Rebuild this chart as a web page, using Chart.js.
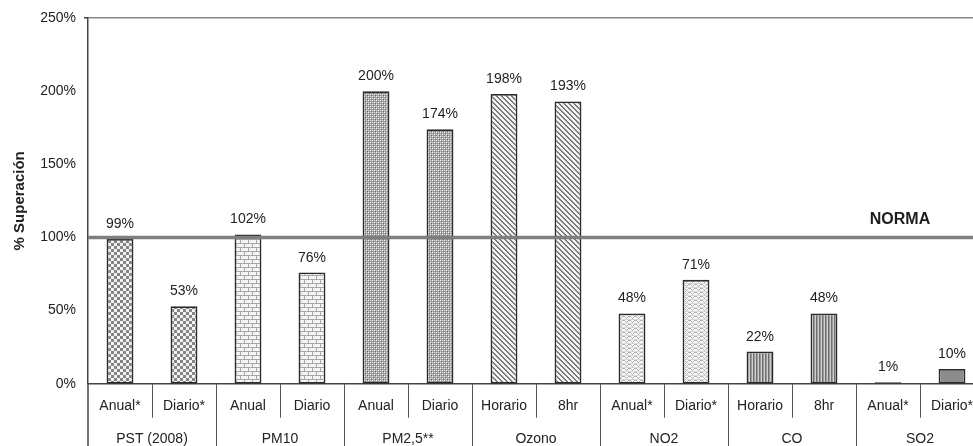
<!DOCTYPE html>
<html>
<head>
<meta charset="utf-8">
<script src="https://cdn.jsdelivr.net/npm/chart.js@4/dist/chart.umd.min.js"></script>
<style>
  html, body { margin: 0; padding: 0; background: #fff; overflow: hidden; }
  #wrap { width: 1000px; height: 446px; }
</style>
</head>
<body>
<div id="wrap"><canvas id="c" width="1000" height="446"></canvas></div>
<script>
// ---- data ----
const subLabels = ['Anual*', 'Diario*', 'Anual', 'Diario', 'Anual', 'Diario', 'Horario', '8hr', 'Anual*', 'Diario*', 'Horario', '8hr', 'Anual*', 'Diario*'];
const groupLabels = ['PST (2008)', 'PM10', 'PM2,5**', 'Ozono', 'NO2', 'CO', 'SO2'];
const superacion = [99, 53, 102, 76, 200, 174, 198, 193, 48, 71, 22, 48, 1, 10];
const yTicks = [0, 50, 100, 150, 200, 250];
const normaValue = 100;
const normaLabel = 'NORMA';
const yTitle = '% Superación';

// ---- patterns ----
function mkPattern(w, h, draw) {
  const c = document.createElement('canvas');
  c.width = w; c.height = h;
  const g = c.getContext('2d');
  draw(g, w, h);
  return document.getElementById('c').getContext('2d').createPattern(c, 'repeat');
}
const patChecker = mkPattern(6, 6, (g) => {
  g.fillStyle = '#f2f2f2'; g.fillRect(0, 0, 6, 6);
  g.fillStyle = '#858585'; g.fillRect(0, 0, 3, 3); g.fillRect(3, 3, 3, 3);
});
const patBrick = mkPattern(8, 8, (g) => {
  g.fillStyle = '#f4f4f4'; g.fillRect(0, 0, 8, 8);
  g.fillStyle = '#a8a8a8';
  g.fillRect(0, 3, 8, 1); g.fillRect(0, 7, 8, 1);
  g.fillRect(0, 0, 1, 3); g.fillRect(4, 4, 1, 3);
});
const patDots = mkPattern(4, 4, (g) => {
  g.fillStyle = '#a0a0a0'; g.fillRect(0, 0, 4, 4);
  g.fillStyle = '#ffffff'; g.fillRect(0, 0, 1, 1); g.fillRect(2, 2, 1, 1);
  g.fillStyle = '#6e6e6e'; g.fillRect(1, 1, 1, 1); g.fillRect(3, 3, 1, 1);
  g.fillStyle = '#d8d8d8'; g.fillRect(2, 0, 1, 1); g.fillRect(0, 2, 1, 1);
});
const patDiag = mkPattern(5, 5, (g) => {
  g.fillStyle = '#f4f4f4'; g.fillRect(0, 0, 5, 5);
  g.fillStyle = '#7a7a7a';
  for (let i = 0; i < 5; i++) { g.fillRect(i, i, 1, 1); g.fillRect((i + 1) % 5, i, 1, 1); }
});
const patZigzag = mkPattern(6, 4, (g) => {
  g.fillStyle = '#fafafa'; g.fillRect(0, 0, 6, 4);
  g.fillStyle = '#b0b0b0';
  g.fillRect(0, 0, 1, 1); g.fillRect(1, 1, 1, 1); g.fillRect(2, 2, 1, 1);
  g.fillRect(3, 1, 1, 1); g.fillRect(4, 0, 1, 1); g.fillRect(5, 0, 1, 1);
  g.fillStyle = '#d8d8d8'; g.fillRect(0, 3, 6, 1);
});
const patVert = mkPattern(3, 1, (g) => {
  g.fillStyle = '#707070'; g.fillRect(0, 0, 1, 1);
  g.fillStyle = '#9a9a9a'; g.fillRect(1, 0, 1, 1);
  g.fillStyle = '#cfcfcf'; g.fillRect(2, 0, 1, 1);
});
const solidGray = '#8c8c8c';
const barFills = [patChecker, patChecker, patBrick, patBrick, patDots, patDots, patDiag, patDiag,
                  patZigzag, patZigzag, patVert, patVert, solidGray, solidGray];

const FONT = '"Liberation Sans", Arial, sans-serif';
const TEXT = '#222222';

// ---- plugins ----
const extras = {
  id: 'extras',
  afterDatasetsDraw(chart) {
    const ctx = chart.ctx;
    const xs = chart.scales.x, ys = chart.scales.y;
    const area = chart.chartArea;
    // value labels
    const meta = chart.getDatasetMeta(0);
    ctx.save();
    ctx.font = '14px ' + FONT;
    ctx.fillStyle = TEXT;
    ctx.textAlign = 'center';
    ctx.textBaseline = 'alphabetic';
    meta.data.forEach((bar, i) => {
      ctx.fillText(superacion[i] + '%', bar.x, bar.y - 11);
    });
    // NORMA line
    const ny = ys.getPixelForValue(normaValue);
    ctx.strokeStyle = '#7f7f7f';
    ctx.lineWidth = 3.5;
    ctx.beginPath();
    ctx.moveTo(area.left, ny);
    ctx.lineTo(area.right, ny);
    ctx.stroke();
    ctx.font = 'bold 16px ' + FONT;
    ctx.fillStyle = '#1e1e1e';
    ctx.fillText(normaLabel, area.right - 84, ny - 13);
    // category dividers
    const bw = xs.getPixelForValue(1) - xs.getPixelForValue(0);
    ctx.strokeStyle = '#555555';
    ctx.lineWidth = 1;
    const y0 = area.bottom;
    const ySub = chart.scales.x.bottom;
    for (let i = 1; i <= subLabels.length; i++) {
      const bx = Math.round(xs.getPixelForValue(i - 1) + bw / 2) + 0.5;
      ctx.beginPath();
      ctx.moveTo(bx, y0);
      ctx.lineTo(bx, i % 2 === 0 ? chart.height : ySub);
      ctx.stroke();
    }
    // left axis continuation
    ctx.strokeStyle = '#444444';
    ctx.lineWidth = 1.5;
    ctx.beginPath();
    ctx.moveTo(area.left, y0);
    ctx.lineTo(area.left, chart.height);
    ctx.stroke();
    ctx.restore();
  }
};

new Chart(document.getElementById('c'), {
  type: 'bar',
  data: {
    labels: subLabels,
    datasets: [{
      data: superacion,
      backgroundColor: barFills,
      borderColor: '#2b2b2b',
      borderWidth: 1.8,
      borderSkipped: false,
      barPercentage: 0.42,
      categoryPercentage: 1.0
    }]
  },
  options: {
    responsive: false,
    animation: false,
    devicePixelRatio: 1,
    layout: { padding: { top: 18, right: 16, left: 0, bottom: 0 } },
    plugins: { legend: { display: false }, tooltip: { enabled: false } },
    scales: {
      x: {
        type: 'category',
        position: 'bottom',
        grid: { display: false, drawTicks: false },
        border: { display: true, color: '#444444', width: 1.5 },
        ticks: { color: TEXT, font: { family: FONT, size: 14 }, padding: 14, maxRotation: 0, autoSkip: false },
        afterFit(s) { s.height = 34; }
      },
      x2: {
        type: 'category',
        position: 'bottom',
        labels: groupLabels,
        offset: true,
        grid: { display: false, drawTicks: false },
        border: { display: false },
        ticks: { color: TEXT, font: { family: FONT, size: 14 }, padding: 13, maxRotation: 0, autoSkip: false },
        afterFit(s) { s.height = 28.3; }
      },
      y: {
        min: 0,
        max: 250,
        afterBuildTicks(s) { s.ticks = yTicks.map(v => ({ value: v })); },
        ticks: {
          color: TEXT,
          font: { family: FONT, size: 14 },
          padding: 8,
          callback: (v) => v + '%'
        },
        grid: {
          drawOnChartArea: true,
          color: (c) => (c.tick && c.tick.value === 250) ? '#888888' : 'rgba(0,0,0,0)',
          lineWidth: (c) => (c.tick && c.tick.value === 250) ? 1.5 : 0,
          tickColor: '#444444',
          tickLength: 4
        },
        border: { display: true, color: '#444444', width: 1.5 },
        title: {
          display: true,
          text: yTitle,
          color: TEXT,
          font: { family: FONT, size: 15, weight: 'bold' },
          padding: { top: 11, bottom: 0 }
        },
        afterFit(s) { s.width = 88; }
      }
    }
  },
  plugins: [extras]
});
</script>
</body>
</html>
